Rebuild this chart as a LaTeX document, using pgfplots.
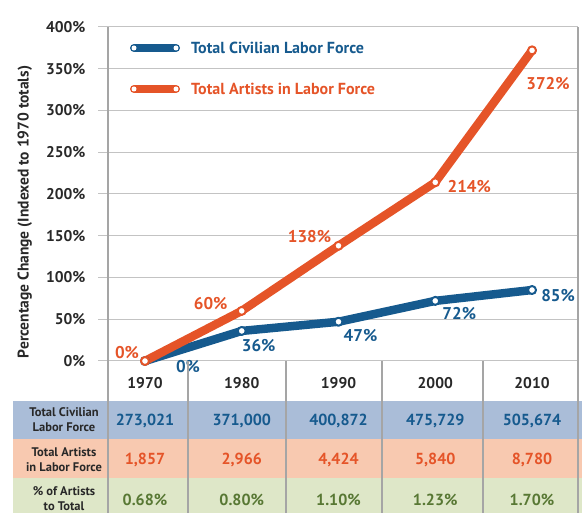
\documentclass[border=0pt]{standalone}
\usepackage{pgfplots}
\pgfplotsset{compat=1.18}
\usepackage{pgfplotstable}
\usepackage{fontspec}
\setmainfont{PT Sans}
\definecolor{cblue}{RGB}{22,90,142}
\definecolor{corange}{RGB}{229,84,40}
\definecolor{bgblue}{RGB}{170,189,216}
\definecolor{bgorange}{RGB}{248,201,176}
\definecolor{bggreen}{RGB}{222,231,200}
\definecolor{cgreen}{RGB}{88,120,52}
\definecolor{gridgray}{RGB}{195,195,195}
\definecolor{linegray}{RGB}{165,165,165}
\definecolor{txt}{RGB}{40,40,40}

\pgfplotstableread{
x y dx dy
0 0 43 -6
1 36 17 -15
2 47 22 -14
3 72 24 -13
4 85 26 -6
}\civilian
\pgfplotstableread{
x y dx dy
0 0 -18 8
1 60 -31 7
2 138 -29 9
3 214 34 -4
4 372 16 -33
}\artists

\begin{document}
\begin{tikzpicture}
\begin{axis}[
  at={(108pt,152pt)}, anchor=south west,
  scale only axis, width=470pt, height=334pt,
  xmin=-0.382, xmax=4.475, ymin=0, ymax=400,
  clip=false,
  /pgf/number format/assume math mode=true,
  axis line style={draw=none},
  xtick=\empty,
  ytick={0,50,...,400},
  ymajorgrids, grid style={gridgray, line width=1pt},
  ytick pos=left, tick align=outside, major tick length=10pt,
  tick style={gridgray, line width=1pt},
  yticklabel={\pgfmathprintnumber{\tick}\%},
  yticklabel style={font=\bfseries\fontsize{15.5}{17}\selectfont, text=txt, xshift=-9pt},
  ylabel={Percentage Change (Indexed to 1970 totals)},
  ylabel style={at={(axis description cs:-0.177,0.446)}, anchor=center, font=\bfseries\fontsize{15.5}{17}\selectfont, text=txt},
  every node near coord/.append style={anchor=center, xshift=\dx pt, yshift=\dy pt,
    font=\bfseries\fontsize{17}{19}\selectfont},
  nodes near coords={\pgfmathprintnumber{\pgfplotspointmeta}\%},
  visualization depends on={\thisrow{dx} \as \dx},
  visualization depends on={\thisrow{dy} \as \dy},
]
\addplot[cblue, line width=8.5pt, line join=round, line cap=round,
  mark=*, mark size=4pt, mark options={fill=white, draw=cblue, line width=2pt},
  every node near coord/.append style={text=cblue}]
  table[x=x, y=y] {\civilian};
\addplot[corange, line width=8.5pt, line join=round, line cap=round,
  mark=*, mark size=4pt, mark options={fill=white, draw=corange, line width=2pt},
  every node near coord/.append style={text=corange}]
  table[x=x, y=y] {\artists};
\end{axis}

% legend
\draw[cblue, line width=8pt, line cap=round] (134pt,465pt) -- (176pt,465pt);
\fill[white] (134pt,465pt) circle (2.5pt);
\fill[white] (176pt,465pt) circle (2.5pt);
\node[anchor=west, inner sep=0pt, text=cblue, font=\bfseries\fontsize{16}{18}\selectfont] at (191pt,465pt) {Total Civilian Labor Force};
\draw[corange, line width=8pt, line cap=round] (134pt,424pt) -- (176pt,424pt);
\fill[white] (134pt,424pt) circle (2.5pt);
\fill[white] (176pt,424pt) circle (2.5pt);
\node[anchor=west, inner sep=0pt, text=corange, font=\bfseries\fontsize{16}{18}\selectfont] at (191pt,424pt) {Total Artists in Labor Force};

% table below the chart
\fill[bgblue] (13pt,74pt) rectangle (582pt,112pt);
\fill[bgorange] (13pt,35pt) rectangle (582pt,74pt);
\fill[bggreen] (13pt,0pt) rectangle (582pt,35pt);
\draw[linegray, line width=1.2pt] (108pt,0pt) -- (108pt,486pt);
\draw[linegray, line width=1.2pt] (578pt,0pt) -- (578pt,486pt);
\foreach \xx in {188,286,382,483}
  \draw[linegray, line width=1.2pt] (\xx pt,0pt) -- (\xx pt,152pt);

\foreach \yr [count=\i from 0] in {1970,1980,1990,2000,2010}
  \node[font=\bfseries\fontsize{15.5}{17}\selectfont, text=txt] at ({145pt+96.75pt*\i},130pt) {\yr};
\foreach \v [count=\i from 0] in {{273,021},{371,000},{400,872},{475,729},{505,674}}
  \node[font=\bfseries\fontsize{16}{18}\selectfont, text=cblue] at ({145pt+96.75pt*\i},92pt) {\v};
\foreach \v [count=\i from 0] in {{1,857},{2,966},{4,424},{5,840},{8,780}}
  \node[font=\bfseries\fontsize{16}{18}\selectfont, text=corange] at ({145pt+96.75pt*\i},53pt) {\v};
\foreach \v [count=\i from 0] in {0.68,0.80,1.10,1.23,1.70}
  \node[font=\bfseries\fontsize{16}{18}\selectfont, text=cgreen] at ({145pt+96.75pt*\i},13pt) {\v\%};

\node[align=center, font=\bfseries\fontsize{12.5}{15}\selectfont, text=txt] at (64pt,93pt) {Total Civilian\\Labor Force};
\node[align=center, font=\bfseries\fontsize{12.5}{15}\selectfont, text=txt] at (64pt,53pt) {Total Artists\\in Labor Force};
\node[align=center, font=\bfseries\fontsize{12.5}{15}\selectfont, text=txt] at (64pt,14pt) {\% of Artists\\to Total};

\pgfresetboundingbox
\useasboundingbox (0pt,0pt) rectangle (582pt,513pt);
\end{tikzpicture}
\end{document}
